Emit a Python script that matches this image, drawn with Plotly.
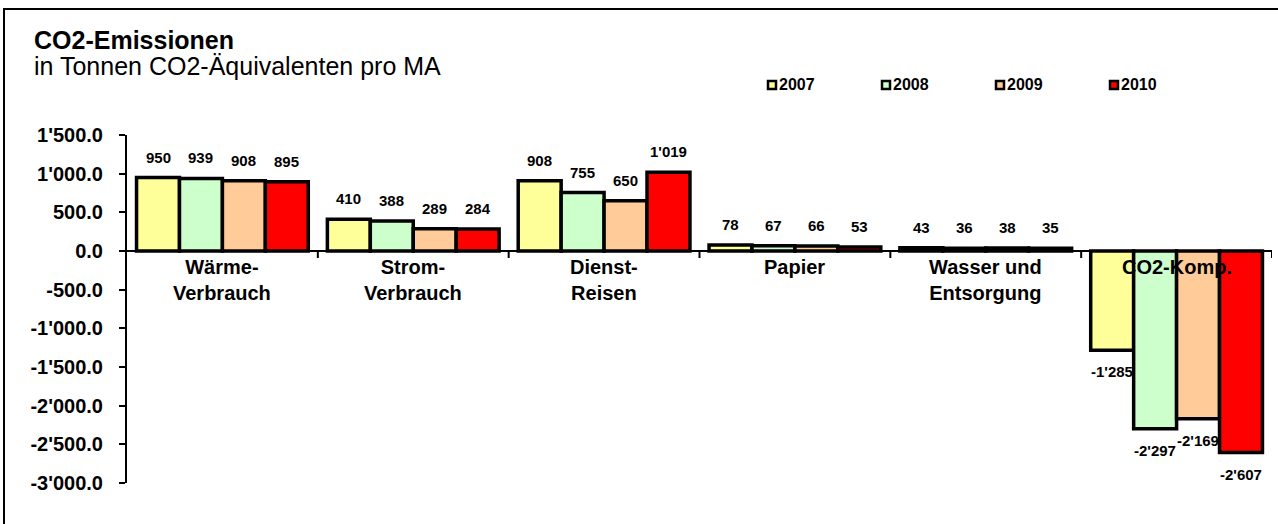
import plotly.graph_objects as go

categories = ["Wärme-<br>Verbrauch", "Strom-<br>Verbrauch", "Dienst-<br>Reisen", "Papier",
              "Wasser und<br>Entsorgung", "CO2-Komp."]
years = ["2007", "2008", "2009", "2010"]
v2007 = [950, 410, 908, 78, 43, -1285]
v2008 = [939, 388, 755, 67, 36, -2297]
v2009 = [908, 289, 650, 66, 38, -2169]
v2010 = [895, 284, 1019, 53, 35, -2607]
series = [v2007, v2008, v2009, v2010]
colors = ["#FFFF99", "#CCFFCC", "#FFCC99", "#FF0000"]
y_ticks = [1500, 1000, 500, 0, -500, -1000, -1500, -2000, -2500, -3000]

FONT = "Liberation Sans, Arial, sans-serif"
W, H = 1278, 524
ML, MR, MT, MB = 127, 6, 135, 41
PW, PH = W - ML - MR, H - MT - MB


def px_x(px):
    return (px - ML) / PW


def px_y(py):
    return (H - MB - py) / PH


def fmt(v, dec=0):
    s = f"{abs(v):,.{dec}f}".replace(",", "'")
    return ("-" if v < 0 else "") + s


x = list(range(len(categories)))
fig = go.Figure()
for yr, vals, col in zip(years, series, colors):
    fig.add_trace(go.Bar(
        x=x, y=vals, name=yr,
        marker=dict(color=col, line=dict(color="black", width=3.5)),
        hoverinfo="skip",
    ))

annotations = []
n = len(series)
bw = 0.9 / n
for k, vals in enumerate(series):
    off = -0.45 + bw * (k + 0.5)
    for i, v in enumerate(vals):
        annotations.append(dict(
            x=i + off, y=v, xref="x", yref="y", text="<b>" + fmt(v) + "</b>", showarrow=False,
            font=dict(family=FONT, size=15, color="black"),
            yanchor="bottom" if v >= 0 else "top",
            yshift=10 if v >= 0 else -11,
        ))

for i, c in enumerate(categories):
    annotations.append(dict(
        x=i, y=0, xref="x", yref="y", text="<b>" + c + "</b>", showarrow=False,
        font=dict(family=FONT, size=20, color="black"),
        yanchor="top", yshift=-3,
    ))

annotations.append(dict(
    x=px_x(32), y=px_y(40), xref="paper", yref="paper", text="<b>CO2-Emissionen</b>",
    showarrow=False, xanchor="left", yanchor="middle",
    font=dict(family=FONT, size=25, color="black")))
annotations.append(dict(
    x=px_x(32), y=px_y(66), xref="paper", yref="paper", text="in Tonnen CO2-Äquivalenten pro MA",
    showarrow=False, xanchor="left", yanchor="middle",
    font=dict(family=FONT, size=25, color="black")))

shapes = []
# outer border
shapes.append(dict(type="rect", xref="paper", yref="paper",
                   x0=px_x(4), x1=px_x(1290), y0=px_y(540), y1=px_y(9),
                   line=dict(color="black", width=2), fillcolor="rgba(0,0,0,0)", layer="below"))
# category boundary ticks
for i in range(len(categories)):
    shapes.append(dict(type="line", xref="x", yref="y", ysizemode="pixel", yanchor=0,
                       x0=i + 0.5, x1=i + 0.5, y0=0, y1=-7,
                       line=dict(color="black", width=2)))

# manual legend
leg_y = px_y(85)
for k, (yr, col) in enumerate(zip(years, colors)):
    cx = px_x(772 + 114 * k)
    shapes.append(dict(type="rect", xref="paper", yref="paper",
                       xsizemode="pixel", ysizemode="pixel", xanchor=cx, yanchor=leg_y,
                       x0=-4, x1=4, y0=-4, y1=4,
                       fillcolor=col, line=dict(color="black", width=2.5)))
    annotations.append(dict(
        x=px_x(777 + 114 * k), y=leg_y, xref="paper", yref="paper", text="<b>" + yr + "</b>",
        showarrow=False, xanchor="left", yanchor="middle",
        font=dict(family=FONT, size=16, color="black")))

fig.update_layout(
    width=W, height=H,
    margin=dict(l=ML, r=MR, t=MT, b=MB, pad=0),
    paper_bgcolor="white", plot_bgcolor="white",
    barmode="group", bargap=0.1, bargroupgap=0,
    showlegend=False,
    annotations=annotations, shapes=shapes,
    font=dict(family=FONT, color="black"),
)
fig.update_xaxes(range=[-0.5, len(categories) - 0.5], showticklabels=False, showgrid=False,
                 zeroline=False, showline=False, ticks="", fixedrange=True)
fig.update_yaxes(range=[-3000, 1500], tickvals=y_ticks, ticktext=[fmt(t, 1) for t in y_ticks],
                 showgrid=False, showline=True, linecolor="black", linewidth=2,
                 ticks="outside", ticklen=6, tickwidth=2, tickcolor="black",
                 zeroline=True, zerolinecolor="black", zerolinewidth=2,
                 tickfont=dict(family=FONT, size=20, color="black", weight="bold"),
                 ticklabelstandoff=12, fixedrange=True)

fig.write_html("out.html", config={"displayModeBar": False})
